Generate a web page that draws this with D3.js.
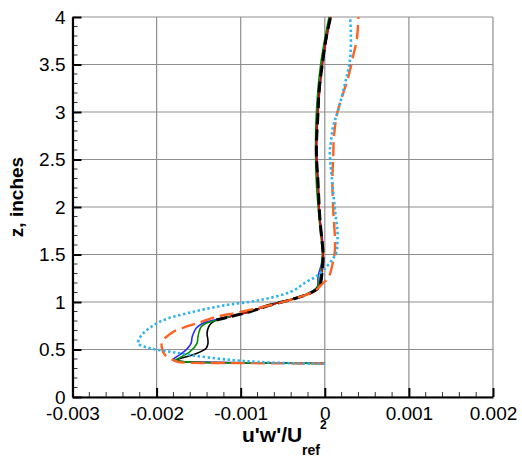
<!DOCTYPE html>
<html>
<head>
<meta charset="utf-8">
<script src="https://cdn.jsdelivr.net/npm/d3@7"></script>
<style>
  html, body { margin: 0; padding: 0; background: #fff; }
  svg { display: block; font-family: "Liberation Sans", Arial, Helvetica, sans-serif; }
</style>
</head>
<body>
<svg id="chart" width="522" height="458"></svg>
<script>
// Tick values and labels
const xTicks = [-0.003, -0.002, -0.001, 0, 0.001, 0.002];
const xTickLabels = ["-0.003", "-0.002", "-0.001", "0", "0.001", "0.002"];
const yTicks = [0, 0.5, 1, 1.5, 2, 2.5, 3, 3.5, 4];
const yTickLabels = ["0", "0.5", "1", "1.5", "2", "2.5", "3", "3.5", "4"];

// Profiles: [u'w'/Uref^2, z (inches)]
const blackSolid = [
  [0, 0.354], [-0.0004, 0.356], [-0.001, 0.360], [-0.0015, 0.366], [-0.00172, 0.375],
  [-0.00177, 0.389], [-0.00171, 0.407], [-0.00155, 0.45], [-0.00141, 0.513], [-0.00139, 0.56],
  [-0.00139, 0.6], [-0.0014, 0.67], [-0.00138, 0.74], [-0.00135, 0.776], [-0.00129, 0.81],
  [-0.00113, 0.845], [-0.00089, 0.898], [-0.00065, 0.968], [-0.00042, 1.02], [-0.00018, 1.09],
  [-0.00008, 1.144], [-0.00005, 1.2], [-0.00003, 1.34], [-0.00002, 1.5], [-0.00004, 1.7],
  [-0.00006, 1.9], [-0.00008, 2.25], [-0.0001, 2.6], [-0.00008, 3.0], [-0.00007, 3.2],
  [-0.00003, 3.5], [0.00002, 3.8], [0.00007, 4.0]
];
const greenSolid = [
  [0, 0.354], [-0.0004, 0.356], [-0.001, 0.36], [-0.0015, 0.366], [-0.00172, 0.375],
  [-0.00178, 0.389], [-0.00174, 0.407], [-0.0016, 0.48], [-0.00152, 0.565], [-0.00151, 0.62],
  [-0.0015, 0.67], [-0.00147, 0.74], [-0.00141, 0.776], [-0.00132, 0.8], [-0.00114, 0.845],
  [-0.0009, 0.898], [-0.00066, 0.968], [-0.00043, 1.02], [-0.0002, 1.09], [-0.0001, 1.144],
  [-0.00007, 1.2], [-0.00005, 1.3], [-0.00003, 1.5], [-0.00007, 1.9], [-0.0001, 2.25],
  [-0.00011, 2.6], [-0.0001, 3.0], [-0.00005, 3.5], [0.00005, 4.0]
];
const blueSolid = [
  [0, 0.354], [-0.0004, 0.357], [-0.001, 0.361], [-0.0015, 0.367], [-0.00175, 0.376],
  [-0.00181, 0.389], [-0.00179, 0.407], [-0.00167, 0.48], [-0.00159, 0.565], [-0.00158, 0.62],
  [-0.00157, 0.653], [-0.00153, 0.723], [-0.00145, 0.776], [-0.00135, 0.803], [-0.00115, 0.845],
  [-0.0009, 0.898], [-0.00066, 0.968], [-0.00043, 1.02], [-0.0002, 1.09], [-0.00009, 1.16],
  [-0.00008, 1.27], [-0.00004, 1.4], [-0.00002, 1.55], [-0.00006, 1.9], [-0.00008, 2.25],
  [-0.0001, 2.6], [-0.00008, 3.0], [-0.00003, 3.5], [0.00007, 4.0]
];
const redSolid = [
  [-0.00113, 0.845], [-0.00089, 0.898], [-0.00065, 0.968], [-0.00042, 1.02], [-0.00018, 1.09],
  [-0.00008, 1.144], [-0.00005, 1.2], [-0.00003, 1.34], [-0.00002, 1.5], [-0.00006, 1.9],
  [-0.00008, 2.25], [-0.0001, 2.6], [-0.00008, 3.0], [-0.00003, 3.5], [0.00007, 4.0]
];
const blackDashed = [
  [-0.00129, 0.81], [-0.00113, 0.845], [-0.00089, 0.898], [-0.00065, 0.968], [-0.00042, 1.02],
  [-0.00018, 1.09], [-0.00008, 1.144], [-0.00005, 1.2], [-0.00003, 1.34], [-0.00002, 1.5],
  [-0.00004, 1.7], [-0.00006, 1.9], [-0.00008, 2.25], [-0.0001, 2.6], [-0.00008, 3.0],
  [-0.00007, 3.2], [-0.00003, 3.5], [0.00002, 3.8], [0.00007, 4.0]
];
const orangeDashed = [
  [0, 0.352], [-0.0005, 0.354], [-0.0011, 0.358], [-0.00164, 0.361], [-0.00175, 0.37],
  [-0.0018, 0.389], [-0.0019, 0.442], [-0.00194, 0.53], [-0.00193, 0.59], [-0.00188, 0.635],
  [-0.0018, 0.687], [-0.00168, 0.73], [-0.00152, 0.776], [-0.001285, 0.845], [-0.00105, 0.887],
  [-0.00073, 0.95], [-0.00042, 1.02], [-0.00018, 1.09], [-0.00008, 1.144], [-0.00002, 1.2],
  [0.00004, 1.25], [0.000094, 1.407], [0.00012, 1.547], [0.00012, 1.687], [0.00011, 1.83],
  [0.0001, 1.97], [0.00009, 2.25], [0.0001, 2.53], [0.00011, 2.75], [0.00015, 3.0],
  [0.00022, 3.2], [0.00028, 3.37], [0.00034, 3.6], [0.00038, 3.76], [0.0004, 4.0]
];
const cyanDotted = [
  [0, 0.35], [-0.0004, 0.355], [-0.0008, 0.37], [-0.00105, 0.385], [-0.0013, 0.407],
  [-0.0016, 0.442], [-0.00184, 0.477], [-0.00208, 0.513], [-0.00222, 0.565], [-0.0022, 0.62],
  [-0.00216, 0.67], [-0.00196, 0.793], [-0.00156, 0.898], [-0.00117, 0.968], [-0.00077, 1.02],
  [-0.0004, 1.11], [-0.00022, 1.21], [-0.0001, 1.27], [0.00002, 1.37], [0.0001, 1.46],
  [0.00014, 1.53], [0.00015, 1.62], [0.00015, 1.76], [0.00013, 1.9], [0.00011, 2.07],
  [0.00009, 2.25], [0.00007, 2.42], [0.00006, 2.6], [0.00007, 2.67], [0.0001, 2.85],
  [0.00016, 3.02], [0.00024, 3.3], [0.0003, 3.55], [0.00031, 3.83], [0.0003, 4.0]
];

const svg = d3.select("#chart");
const plotLeft = 72.5, plotRight = 493, plotTop = 17, plotBottom = 397;

const x = d3.scaleLinear().domain([-0.003, 0.002]).range([plotLeft, plotRight]);
const y = d3.scaleLinear().domain([0, 4]).range([plotBottom, plotTop]);

// Grid lines at major ticks
const grid = svg.append("g").attr("stroke", "#8f8f8f").attr("stroke-width", 1.2);
grid.selectAll("line.vx").data(xTicks).join("line")
  .attr("x1", d => x(d)).attr("x2", d => x(d))
  .attr("y1", plotTop).attr("y2", plotBottom);
grid.selectAll("line.hy").data(yTicks).join("line")
  .attr("x1", plotLeft).attr("x2", plotRight)
  .attr("y1", d => y(d)).attr("y2", d => y(d));

// Profiles
svg.append("clipPath").attr("id", "plotClip").append("rect")
  .attr("x", plotLeft).attr("y", plotTop - 1)
  .attr("width", plotRight - plotLeft).attr("height", plotBottom - plotTop + 1);

const line = d3.line()
  .x(d => x(d[0])).y(d => y(d[1]))
  .curve(d3.curveCatmullRom.alpha(0.5));

const series = [
  { data: blackSolid, color: "#000000", width: 1.6, dash: null },
  { data: blueSolid, color: "#2b2bff", width: 1.6, dash: null },
  { data: greenSolid, color: "#008f00", width: 1.6, dash: null },
  { data: redSolid, color: "#e00000", width: 1.6, dash: null },
  { data: blackDashed, color: "#000000", width: 3, dash: "11,5" },
  { data: orangeDashed, color: "#ff6120", width: 2.4, dash: "14,6" },
  { data: cyanDotted, color: "#2cb3f0", width: 2.6, dash: "2.4,2.6" }
];

const plot = svg.append("g").attr("clip-path", "url(#plotClip)");
plot.selectAll("path").data(series).join("path")
  .attr("d", d => line(d.data))
  .attr("fill", "none")
  .attr("stroke", d => d.color)
  .attr("stroke-width", d => d.width)
  .attr("stroke-dasharray", d => d.dash);

// Minor ticks (inward)
const xMinor = d3.range(-0.003, 0.00201, 0.0002).filter(v => Math.abs(v * 1000 - Math.round(v * 1000)) > 1e-6);
const yMinor = d3.range(0, 4.001, 0.1).filter(v => Math.abs(v * 2 - Math.round(v * 2)) > 1e-6);
const minor = svg.append("g").attr("stroke", "#333").attr("stroke-width", 1);
minor.selectAll("line.mx").data(xMinor).join("line")
  .attr("x1", d => x(d)).attr("x2", d => x(d))
  .attr("y1", plotBottom).attr("y2", plotBottom - 5);
minor.selectAll("line.my").data(yMinor).join("line")
  .attr("x1", plotLeft).attr("x2", plotLeft + 5)
  .attr("y1", d => y(d)).attr("y2", d => y(d));

// Axes
const xAxis = d3.axisBottom(x)
  .tickValues(xTicks)
  .tickFormat((d, i) => xTickLabels[i])
  .tickSizeInner(-9).tickSizeOuter(0).tickPadding(10);
const yAxis = d3.axisLeft(y)
  .tickValues(yTicks)
  .tickFormat((d, i) => yTickLabels[i])
  .tickSizeInner(-9).tickSizeOuter(0).tickPadding(7);

const gx = svg.append("g").attr("transform", `translate(0,${plotBottom})`).call(xAxis);
const gy = svg.append("g").attr("transform", `translate(${plotLeft},0)`).call(yAxis);

[gx, gy].forEach(g => {
  g.select(".domain").attr("stroke", "#000").attr("stroke-width", 2.2);
  g.selectAll(".tick line").attr("stroke", "#000").attr("stroke-width", 2);
  g.selectAll(".tick text").attr("fill", "#000")
    .style("font-size", "19px")
    .style("font-family", '"Liberation Sans", Arial, Helvetica, sans-serif');
});

// Axis titles
const xt = svg.append("text")
  .attr("fill", "#000")
  .style("font-weight", "bold")
  .style("font-family", '"Liberation Sans", Arial, Helvetica, sans-serif');
xt.append("tspan").attr("x", 242).attr("y", 442).style("font-size", "21px").text("u'w'/U");
xt.append("tspan").attr("x", 302).attr("y", 455).style("font-size", "14px").text("ref");
xt.append("tspan").attr("x", 320).attr("y", 429).style("font-size", "12px").text("2");

svg.append("text")
  .attr("transform", "translate(23,197) rotate(-90)")
  .attr("text-anchor", "middle")
  .attr("fill", "#000")
  .style("font-weight", "bold")
  .style("font-size", "19px")
  .style("font-family", '"Liberation Sans", Arial, Helvetica, sans-serif')
  .text("z, inches");
</script>
</body>
</html>
